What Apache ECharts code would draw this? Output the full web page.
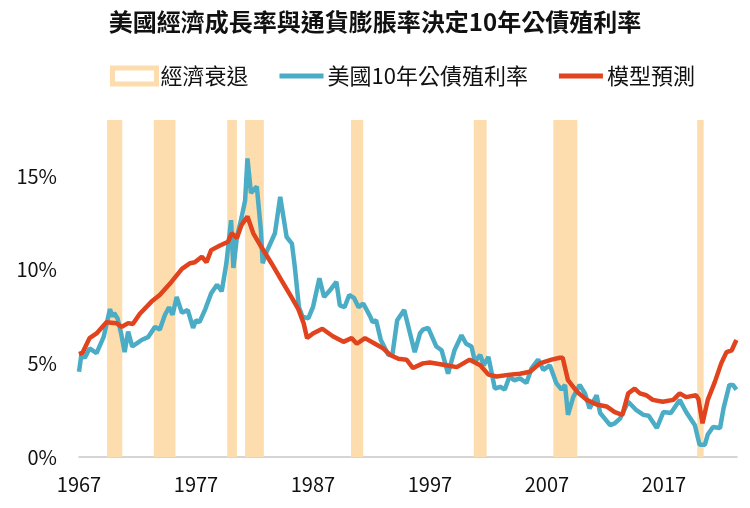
<!DOCTYPE html>
<html>
<head>
<meta charset="utf-8">
<script src="https://cdn.jsdelivr.net/npm/echarts@6/dist/echarts.min.js"></script>
<style>
  html, body { margin: 0; padding: 0; background: #fff; }
  #main { width: 750px; height: 508px; }
</style>
</head>
<body>
<div id="main"></div>
<script>
// 經濟衰退區間 (年)
var recessions = [
  [1969.4, 1970.7], [1973.4, 1975.25], [1979.67, 1980.5], [1981.2, 1982.8],
  [1990.25, 1991.3], [2000.75, 2001.85], [2007.55, 2009.6], [2019.85, 2020.4]
];

// 美國10年公債殖利率 [年, %]
var treasury = [
  [1967.0, 4.55], [1967.2, 5.45], [1967.5, 5.3], [1967.9, 5.8], [1968.5, 5.55],
  [1969.1, 6.4], [1969.65, 7.9], [1969.85, 7.5], [1970.0, 7.7], [1970.3, 7.4],
  [1970.6, 6.6], [1970.9, 5.6], [1971.2, 6.7], [1971.55, 5.9], [1972.0, 6.1],
  [1972.35, 6.25], [1972.9, 6.4], [1973.5, 6.95], [1973.9, 6.8], [1974.35, 7.6],
  [1974.7, 8.0], [1975.0, 7.6], [1975.35, 8.55], [1975.8, 7.7], [1976.3, 7.85],
  [1976.75, 6.9], [1977.0, 7.3], [1977.3, 7.2], [1977.8, 7.9], [1978.3, 8.75],
  [1978.8, 9.2], [1979.2, 8.85], [1979.6, 10.35], [1980.0, 12.65], [1980.2, 10.1],
  [1980.5, 11.75], [1980.9, 12.8], [1981.2, 13.7], [1981.4, 15.95], [1981.7, 14.1],
  [1982.2, 14.45], [1982.55, 12.1], [1982.7, 10.35], [1983.0, 10.9], [1983.75, 11.95],
  [1984.2, 13.9], [1984.75, 11.75], [1985.2, 11.4], [1985.45, 10.15], [1985.8, 8.0],
  [1986.1, 7.5], [1986.6, 7.4], [1987.0, 8.0], [1987.55, 9.55], [1987.95, 8.55],
  [1988.45, 8.9], [1989.0, 9.35], [1989.3, 8.1], [1989.7, 8.0], [1990.1, 8.65],
  [1990.5, 8.5], [1990.9, 8.0], [1991.3, 8.2], [1991.9, 7.5], [1992.1, 7.2],
  [1992.4, 7.3], [1992.8, 6.25], [1993.45, 5.45], [1993.8, 5.5], [1994.2, 7.3],
  [1994.8, 7.85], [1995.3, 6.6], [1995.7, 5.6], [1996.15, 6.6], [1996.4, 6.8],
  [1996.85, 6.9], [1997.0, 6.85], [1997.55, 5.9], [1998.0, 5.7], [1998.55, 4.45],
  [1999.1, 5.7], [1999.7, 6.5], [2000.1, 6.05], [2000.55, 5.9], [2000.85, 5.1],
  [2001.3, 5.45], [2001.6, 4.9], [2002.0, 5.35], [2002.55, 3.65], [2003.0, 3.75],
  [2003.4, 3.6], [2003.8, 4.3], [2004.2, 4.1], [2004.7, 4.2], [2005.25, 3.95],
  [2005.7, 4.75], [2006.25, 5.2], [2006.7, 4.65], [2007.25, 4.9], [2007.8, 3.95],
  [2008.25, 3.6], [2008.55, 3.85], [2008.8, 2.25], [2009.25, 3.2], [2009.8, 3.85],
  [2010.25, 3.4], [2010.65, 2.6], [2011.25, 3.3], [2011.55, 2.35], [2011.95, 2.05],
  [2012.4, 1.7], [2012.8, 1.8], [2013.25, 2.05], [2013.95, 2.95], [2014.65, 2.5],
  [2015.25, 2.25], [2015.7, 2.2], [2016.4, 1.55], [2016.95, 2.4], [2017.6, 2.35],
  [2018.35, 3.05], [2018.9, 2.4], [2019.65, 1.7], [2020.05, 0.65], [2020.5, 0.65],
  [2020.75, 1.2], [2021.2, 1.6], [2021.8, 1.55], [2022.1, 2.6], [2022.6, 3.85],
  [2022.9, 3.85], [2023.2, 3.6]
];

// 模型預測 [年, %]
var model = [
  [1967.0, 5.5], [1967.3, 5.57], [1967.9, 6.35], [1968.5, 6.6], [1969.35, 7.2],
  [1970.2, 7.15], [1970.65, 6.95], [1971.2, 7.15], [1971.6, 7.1], [1972.2, 7.65],
  [1973.2, 8.3], [1973.9, 8.65], [1974.9, 9.35], [1975.8, 10.05], [1976.5, 10.35],
  [1976.9, 10.4], [1977.5, 10.7], [1977.9, 10.4], [1978.3, 11.05], [1979.05, 11.3],
  [1979.75, 11.5], [1980.05, 11.95], [1980.5, 11.7], [1980.9, 12.4], [1981.4, 12.85],
  [1981.9, 11.95], [1982.6, 11.2], [1983.45, 10.35], [1984.3, 9.45], [1985.2, 8.5],
  [1985.75, 7.9], [1986.2, 7.15], [1986.5, 6.35], [1987.0, 6.6], [1987.8, 6.85],
  [1988.7, 6.45], [1989.6, 6.15], [1990.3, 6.35], [1990.75, 6.05], [1991.45, 6.35],
  [1992.3, 6.05], [1993.0, 5.8], [1993.6, 5.45], [1994.3, 5.25], [1995.0, 5.2],
  [1995.55, 4.75], [1996.4, 5.0], [1997.0, 5.05], [1998.4, 4.9], [1999.3, 4.8],
  [2000.4, 5.2], [2001.3, 4.9], [2002.0, 4.4], [2002.7, 4.3], [2003.85, 4.4],
  [2004.7, 4.45], [2005.55, 4.55], [2006.4, 5.0], [2007.4, 5.2], [2008.1, 5.3],
  [2008.35, 5.3], [2008.8, 4.1], [2009.55, 3.5], [2010.4, 3.05], [2011.25, 2.8],
  [2012.1, 2.7], [2012.8, 2.4], [2013.45, 2.25], [2013.95, 3.4], [2014.5, 3.65],
  [2014.95, 3.4], [2015.5, 3.3], [2016.05, 3.05], [2016.9, 2.95], [2017.8, 3.05],
  [2018.35, 3.4], [2018.9, 3.2], [2019.75, 3.3], [2019.95, 3.1], [2020.3, 1.8],
  [2020.75, 3.05], [2021.35, 4.0], [2021.9, 5.0], [2022.35, 5.6], [2022.8, 5.7],
  [2023.05, 6.05], [2023.2, 6.25]
];

var cjk = '"Noto Sans CJK TC", "Noto Sans CJK SC", sans-serif';
// 圖例線條圖示 (寬扁長方形)
var lineIcon = 'path://M0,0H44V5H0Z';

var chart = echarts.init(document.getElementById('main'), null, { renderer: 'canvas' });

var option = {
  animation: false,
  textStyle: { fontFamily: cjk },
  title: {
    text: '美國經濟成長率與通貨膨脹率決定10年公債殖利率',
    left: 'center',
    top: 5,
    textStyle: { fontSize: 24, fontWeight: 'bold', color: '#111', fontFamily: cjk }
  },
  legend: {
    top: 60,
    left: 105,
    itemGap: 31,
    itemWidth: 44,
    itemHeight: 16,
    textStyle: { fontSize: 22, color: '#111', fontFamily: cjk, padding: [0, 0, 0, -1] },
    data: [
      { name: '經濟衰退', icon: 'rect', itemStyle: { color: '#fff', borderColor: '#FDDDAE', borderWidth: 5 } },
      { name: '美國10年公債殖利率', icon: lineIcon },
      { name: '模型預測', icon: lineIcon }
    ]
  },
  grid: { left: 79, right: 13, top: 120, bottom: 51 },
  xAxis: {
    type: 'value',
    min: 1967,
    max: 2023.25,
    interval: 10,
    splitLine: { show: false },
    axisTick: { show: false },
    axisLine: { lineStyle: { color: '#c8c8c8', width: 1.5 } },
    axisLabel: {
      fontSize: 20,
      color: '#111',
      margin: 17,
      showMaxLabel: false,
      formatter: function (v) { return (v - 1967) % 10 === 0 ? String(v) : ''; }
    }
  },
  yAxis: {
    type: 'value',
    min: 0,
    max: 18,
    interval: 5,
    splitLine: { show: false },
    axisTick: { show: false },
    axisLine: { show: false },
    axisLabel: {
      fontSize: 20,
      color: '#111',
      margin: 22,
      showMaxLabel: false,
      formatter: function (v) { return v % 5 === 0 ? v + '%' : ''; }
    }
  },
  series: [
    {
      name: '經濟衰退',
      type: 'line',
      data: [],
      z: 1,
      itemStyle: { color: '#FDDDAE' },
      markArea: {
        silent: true,
        itemStyle: { color: '#FDDDAE' },
        data: recessions.map(function (r) { return [{ xAxis: r[0] }, { xAxis: r[1] }]; })
      }
    },
    {
      name: '美國10年公債殖利率',
      type: 'line',
      data: treasury,
      z: 3,
      symbol: 'none',
      itemStyle: { color: '#4BACC6' },
      lineStyle: { color: '#4BACC6', width: 4.5 }
    },
    {
      name: '模型預測',
      type: 'line',
      data: model,
      z: 4,
      symbol: 'none',
      itemStyle: { color: '#E0431D' },
      lineStyle: { color: '#E0431D', width: 4.5 }
    }
  ]
};

chart.setOption(option);
</script>
</body>
</html>
